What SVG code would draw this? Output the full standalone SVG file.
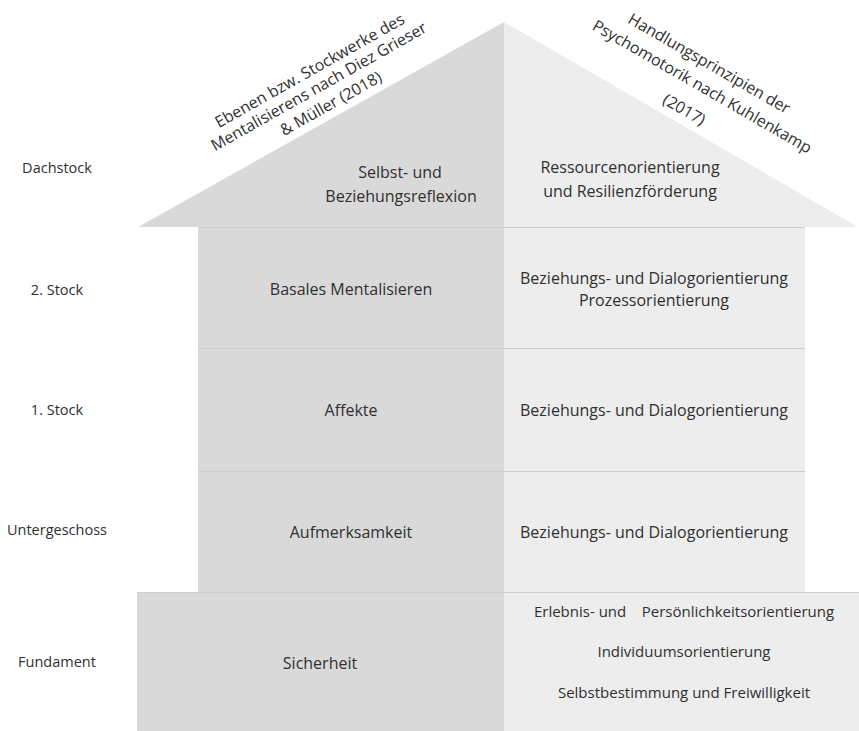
<svg xmlns="http://www.w3.org/2000/svg" width="859" height="731" viewBox="0 0 859 731">
<style>
  text { font-family: "Open Sans", "Liberation Sans", sans-serif; font-size: 16px; fill: #303030; text-anchor: middle; }
  text.lab { font-size: 14.5px; }
  text.fr { font-size: 15px; }
  .l { fill: #d9d9d9; }
  .r { fill: #ededed; }
  .sep { stroke: #cdcdcd; stroke-width: 1; fill: none; }
</style>
<rect width="859" height="731" fill="#ffffff"/>
<g id="roof">
  <polygon class="l" points="138,227 504,22 504,227"/>
  <polygon class="r" points="504,22 858,227 504,227"/>
  <text x="400" y="178">Selbst- und</text>
  <text x="401" y="202">Beziehungsreflexion</text>
  <text x="630" y="173">Ressourcenorientierung</text>
  <text x="630" y="197">und Resilienzförderung</text>
</g>
<g id="header-left">
  <text transform="translate(310,71) rotate(-29.5)" y="5">Ebenen bzw. Stockwerke des</text>
  <text transform="translate(319,87) rotate(-29.5)" y="5">Mentalisierens nach Diez Grieser</text>
  <text transform="translate(331,104) rotate(-29.5)" y="5">&amp; Müller (2018)</text>
</g>
<g id="header-right">
  <text transform="translate(709,64) rotate(30)" y="5">Handlungsprinzipien der</text>
  <text transform="translate(702,87) rotate(30)" y="5">Psychomotorik nach Kuhlenkamp</text>
  <text transform="translate(684,110) rotate(30)" y="5">(2017)</text>
</g>
<g id="stock2">
  <rect class="l" x="198" y="227" width="306" height="121"/>
  <rect class="r" x="504" y="227" width="301" height="121"/>
  <text x="351" y="295">Basales Mentalisieren</text>
  <text x="654" y="284">Beziehungs- und Dialogorientierung</text>
  <text x="654" y="306">Prozessorientierung</text>
</g>
<g id="stock1">
  <rect class="l" x="198" y="348" width="306" height="123"/>
  <rect class="r" x="504" y="348" width="301" height="123"/>
  <text x="351" y="416">Affekte</text>
  <text x="654" y="416">Beziehungs- und Dialogorientierung</text>
</g>
<g id="untergeschoss">
  <rect class="l" x="198" y="471" width="306" height="121"/>
  <rect class="r" x="504" y="471" width="301" height="121"/>
  <text x="351" y="538">Aufmerksamkeit</text>
  <text x="654" y="538">Beziehungs- und Dialogorientierung</text>
</g>
<g id="fundament">
  <rect class="l" x="137" y="592" width="367" height="139"/>
  <rect class="r" x="504" y="592" width="355" height="139"/>
  <text x="320" y="669">Sicherheit</text>
  <text class="fr" x="684" y="617" xml:space="preserve">Erlebnis- und    Persönlichkeitsorientierung</text>
  <text class="fr" x="684" y="657">Individuumsorientierung</text>
  <text class="fr" x="684" y="698">Selbstbestimmung und Freiwilligkeit</text>
</g>
<g id="separators">
  <line class="sep" x1="198" y1="227.5" x2="805" y2="227.5"/>
  <line class="sep" x1="198" y1="348.5" x2="805" y2="348.5"/>
  <line class="sep" x1="198" y1="471.5" x2="805" y2="471.5"/>
  <line class="sep" x1="137" y1="592.5" x2="859" y2="592.5"/>
</g>
<g id="levels">
  <text class="lab" x="57" y="173">Dachstock</text>
  <text class="lab" x="57" y="295">2. Stock</text>
  <text class="lab" x="57" y="415">1. Stock</text>
  <text class="lab" x="57" y="535">Untergeschoss</text>
  <text class="lab" x="57" y="667">Fundament</text>
</g>
</svg>
